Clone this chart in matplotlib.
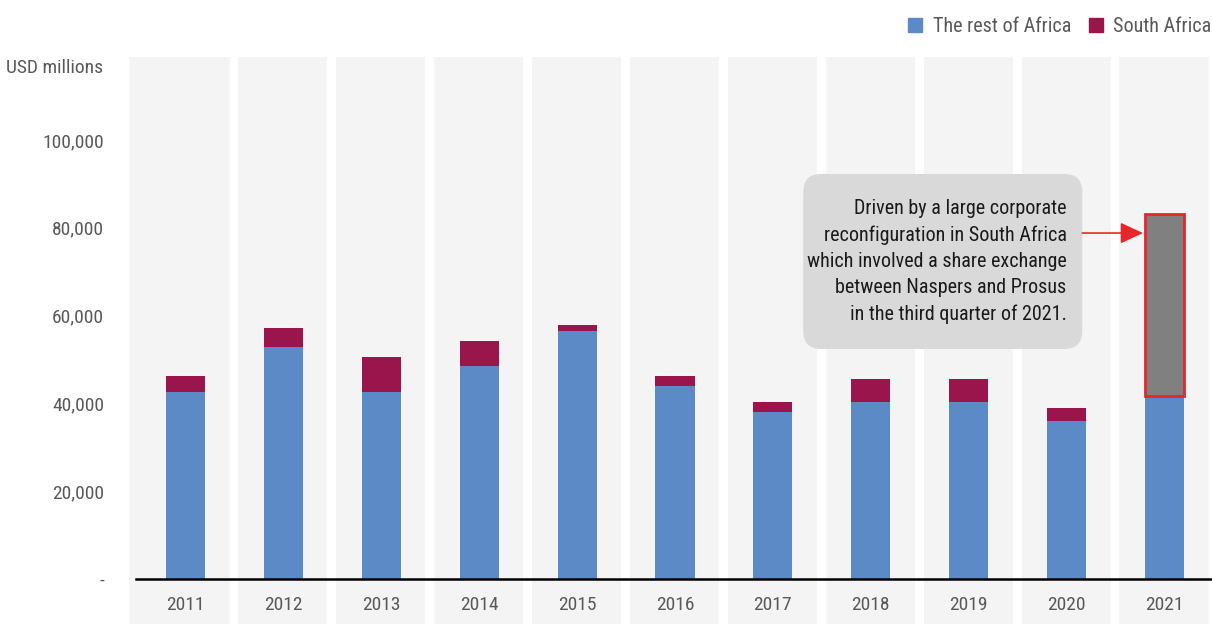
import os
import numpy as np
import matplotlib
matplotlib.use('Agg')
import matplotlib.pyplot as plt
from matplotlib import font_manager as fm
from matplotlib.patches import Patch, FancyBboxPatch

# look for a narrow / condensed face, the original uses a condensed sans
narrow = None
for f in fm.fontManager.ttflist:
    base = os.path.basename(f.fname).lower()
    if ('condensed' in base or 'narrow' in base) and f.style == 'normal' \
            and f.weight in (400, 'normal', 'regular') and 'mono' not in base:
        narrow = f
        if 'liberation' in base or 'roboto' in base:
            break
if narrow is not None:
    plt.rcParams['font.family'] = [narrow.name, 'DejaVu Sans']
    plt.rcParams['font.stretch'] = narrow.stretch
else:
    plt.rcParams['font.family'] = ['DejaVu Sans']

years = ['2011', '2012', '2013', '2014', '2015', '2016', '2017', '2018', '2019', '2020', '2021']
rest_of_africa = [42600, 52850, 42600, 48500, 56500, 44000, 38100, 40300, 40300, 36000, 41750]
south_africa = [3650, 4350, 7950, 5700, 1400, 2250, 2200, 5200, 5200, 2950, 41400]
yticks = [0, 20000, 40000, 60000, 80000, 100000]
ytick_labels = ['-', '20,000', '40,000', '60,000', '80,000', '100,000']
note = ('Driven by a large corporate\nreconfiguration in South Africa\n'
        'which involved a share exchange\nbetween Naspers and Prosus\n'
        'in the third quarter of 2021.')

BLUE = '#5b8ac6'
MAROON = '#99154b'
BAND = '#f4f4f4'
TXT = '#595959'

fig = plt.figure(figsize=(12.12, 6.24), dpi=100)
ax = fig.add_axes([129/1212, 0, 1 - 129/1212, 567/624])
x = np.arange(len(years))
ax.set_xlim(-0.577, 10.485)
ax.set_ylim(-10250, 118900)

# grey column bands behind each year
for i in x:
    left = -0.577 if i == 0 else i - 0.46
    ax.axvspan(left, i + 0.45, color=BAND, lw=0, zorder=0)

w = 0.4
ax.bar(x, rest_of_africa, width=w, color=BLUE, zorder=2)
sa_colors = [MAROON] * (len(years) - 1) + ['#808080']
sa_edges = [MAROON] * (len(years) - 1) + ['#e8262a']
sa_lw = [0] * (len(years) - 1) + [2]
ax.bar(x, south_africa, width=w, bottom=rest_of_africa, color=sa_colors,
       edgecolor=sa_edges, linewidth=sa_lw, zorder=2)

ax.axhline(0, xmin=7/1083, xmax=1, color='black', lw=1.8, zorder=3)

for s in ax.spines.values():
    s.set_visible(False)
ax.set_yticks(yticks)
ax.set_yticklabels(ytick_labels)
ax.set_xticks(x)
ax.set_xticklabels(years)
ax.tick_params(axis='y', length=0, pad=18, labelsize=14, labelcolor=TXT)
ax.tick_params(axis='x', length=0, pad=-20, labelsize=14, labelcolor=TXT)

fig.text(103/1212, 1 - 68/624, 'USD millions', ha='right', va='center',
         fontsize=14, color=TXT)

# annotation box and arrow for 2021
bx0, bx1 = 6.31, 9.16
by0, by1 = 52400, 92250
box = FancyBboxPatch((bx0 + 0.1, by0 + 2300), bx1 - bx0 - 0.2, by1 - by0 - 4600,
                     boxstyle='round,pad=0.1,rounding_size=0.18',
                     mutation_aspect=23000, fc='#d9d9d9', ec='none', zorder=4)
ax.add_patch(box)
ax.text(9.0, (by0 + by1) / 2, note, ha='right', va='center', fontsize=14.5,
        color='#1a1a1a', linespacing=1.47, zorder=5)
arrow_y = 78800
ax.annotate('', xy=(9.78, arrow_y), xytext=(bx1, arrow_y),
            arrowprops=dict(arrowstyle='-|>,head_length=1.4,head_width=0.65',
                            color='#e8262a', lw=1.2, shrinkA=0, shrinkB=0), zorder=5)

handles = [Patch(color=BLUE, label='The rest of Africa'),
           Patch(color=MAROON, label='South Africa')]
fig.legend(handles=handles, loc='upper right', bbox_to_anchor=(1.0145, 1.002), ncol=2,
           frameon=False, fontsize=14.5, labelcolor=TXT, handlelength=0.7,
           handleheight=0.7, handletextpad=0.5, columnspacing=0.9)

fig.savefig('out.png', dpi=100, facecolor='white')
